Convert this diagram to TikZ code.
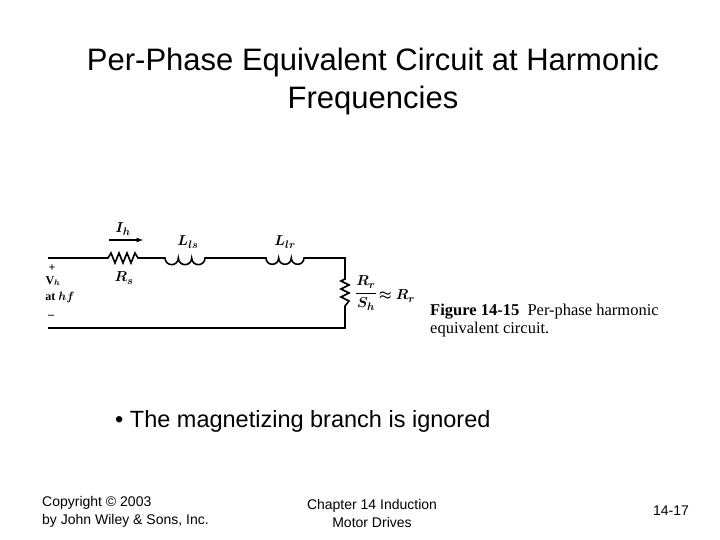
\documentclass[tikz,border=0pt]{standalone}
\usepackage{amsmath}
\usepackage{bm}
\usepackage{fontspec}
\setmainfont{Liberation Sans}
\newfontfamily\tms{Liberation Serif}
\begin{document}
\begin{tikzpicture}[x=1pt,y=-1pt,
  wire/.style={line width=1.6pt},
  lbl/.style={inner sep=0pt, font=\tms\bfseries\fontsize{15}{17}\selectfont},
  slbl/.style={inner sep=0pt, font=\tms\bfseries\fontsize{12}{14}\selectfont}]
\useasboundingbox (0,0) rectangle (720,540);
\node[align=center, font=\fontsize{31}{38}\selectfont] (title) at (373,81) {Per-Phase Equivalent Circuit at Harmonic\\Frequencies};
% circuit
\coordinate (a) at (48,258);
\coordinate (rs1) at (108,258);
\coordinate (rs2) at (138,258);
\coordinate (l1a) at (165,258);
\coordinate (l1b) at (205,258);
\coordinate (l2a) at (266,258);
\coordinate (l2b) at (304,258);
\coordinate (tr) at (345,258);
\coordinate (r1) at (345,279);
\coordinate (r2) at (345,306);
\coordinate (br) at (345,328);
\coordinate (b) at (48,328);
\draw[wire] (a) -- (rs1) -- ++(3,-5) -- ++(4,10) -- ++(4,-10) -- ++(4,10) -- ++(4,-10) -- ++(4,10) -- ++(4,-10) -- ++(3,5) -- (rs2) -- (l1a)
  arc[start angle=180,end angle=0,radius=6.67] arc[start angle=180,end angle=0,radius=6.67] arc[start angle=180,end angle=0,radius=6.67] -- (l2a)
  arc[start angle=180,end angle=0,radius=6.33] arc[start angle=180,end angle=0,radius=6.33] arc[start angle=180,end angle=0,radius=6.33] -- (tr) -- (r1)
  -- ++(-4,2) -- ++(8,4) -- ++(-8,4) -- ++(8,4) -- ++(-8,4) -- ++(8,4) -- ++(-4,5) -- (r2) -- (br) -- (b);
\coordinate (ia) at (109,240); \coordinate (ib) at (143,240);
\draw[line width=1.2pt,-latex] (ia) -- (ib);
\node[lbl] (ih) at (123,229) {$\bm{I_h}$};
\node[lbl] (rsl) at (124,278) {$\bm{R_s}$};
\node[lbl] (lls) at (188,242) {$\bm{L_{ls}}$};
\node[lbl] (llr) at (285,242) {$\bm{L_{lr}}$};
\node[slbl] (plus) at (52,268) {+};
\node[slbl] (vh) at (53,281) {V$_{\bm{h}}$};
\node[slbl] (ahf) at (60,297) {at $\bm{hf}$};
\node[slbl] (minus) at (51,317) {\textendash};
\node[lbl] (rr) at (366,293) {$\bm{\dfrac{R_r}{S_h}}$};
\node[lbl] (rr2) at (397,296) {$\bm{\approx R_r}$};
\node[anchor=west, inner sep=0pt, align=left, font=\tms\fontsize{16.5}{18}\selectfont] (cap) at (430,321) {\textbf{Figure 14-15}\enspace Per-phase harmonic\\equivalent circuit.};
\node[anchor=west, inner sep=0pt, font=\fontsize{23.5}{28}\selectfont] (bullet) at (115,421) {\textbullet\ The magnetizing branch is ignored};
\node[anchor=west, inner sep=0pt, align=left, font=\fontsize{14}{18}\selectfont] (copy) at (42,512) {Copyright © 2003\\by John Wiley \& Sons, Inc.};
\node[align=center, font=\fontsize{14}{18}\selectfont] (ch) at (372,513) {Chapter 14 Induction\\Motor Drives};
\node[font=\fontsize{14}{18}\selectfont] (pg) at (671,511) {14-17};
\end{tikzpicture}
\end{document}
